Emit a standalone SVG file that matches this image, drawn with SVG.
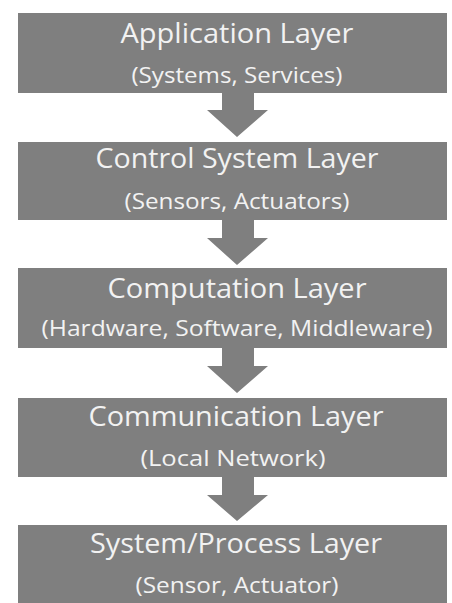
<svg xmlns="http://www.w3.org/2000/svg" width="452" height="603" viewBox="0 0 452 603">
<style>
.box{fill:#7f7f7f}
.arr{fill:#7f7f7f}
.t{font-family:"Open Sans","Liberation Sans",sans-serif;fill:#f2f2f2;text-anchor:middle}
.h{font-size:27px}
.s{font-size:21px}
</style>
<rect width="452" height="603" fill="#ffffff"/>
<g id="connectors">
<polygon class="arr" points="222,93 254,93 254,110 268,110 237,137 207,110 222,110"/>
<polygon class="arr" points="222,220 254,220 254,238 268,238 237,265 207,238 222,238"/>
<polygon class="arr" points="222,348 254,348 254,366 268,366 237,393 207,366 222,366"/>
<polygon class="arr" points="222,477 254,477 254,495 268,495 237,521 207,495 222,495"/>
</g>
<g id="application">
<rect class="box" x="18" y="13" width="429" height="80"/>
<text class="t h" x="237" y="43" textLength="233" lengthAdjust="spacingAndGlyphs">Application Layer</text>
<text class="t s" x="237" y="83" textLength="211" lengthAdjust="spacingAndGlyphs">(Systems, Services)</text>
</g>
<g id="control">
<rect class="box" x="18" y="142" width="429" height="78"/>
<text class="t h" x="237" y="168" textLength="283" lengthAdjust="spacingAndGlyphs">Control System Layer</text>
<text class="t s" x="237" y="209" textLength="225" lengthAdjust="spacingAndGlyphs">(Sensors, Actuators)</text>
</g>
<g id="computation">
<rect class="box" x="18" y="268" width="429" height="80"/>
<text class="t h" x="237" y="298" textLength="259" lengthAdjust="spacingAndGlyphs">Computation Layer</text>
<text class="t s" x="237" y="336" textLength="391" lengthAdjust="spacingAndGlyphs">(Hardware, Software, Middleware)</text>
</g>
<g id="communication">
<rect class="box" x="18" y="398" width="429" height="79"/>
<text class="t h" x="236" y="426" textLength="295" lengthAdjust="spacingAndGlyphs">Communication Layer</text>
<text class="t s" x="233" y="466" textLength="185" lengthAdjust="spacingAndGlyphs">(Local Network)</text>
</g>
<g id="process">
<rect class="box" x="18" y="525" width="429" height="78"/>
<text class="t h" x="236" y="553" textLength="292" lengthAdjust="spacingAndGlyphs">System/Process Layer</text>
<text class="t s" x="237" y="593" textLength="203" lengthAdjust="spacingAndGlyphs">(Sensor, Actuator)</text>
</g>
</svg>
